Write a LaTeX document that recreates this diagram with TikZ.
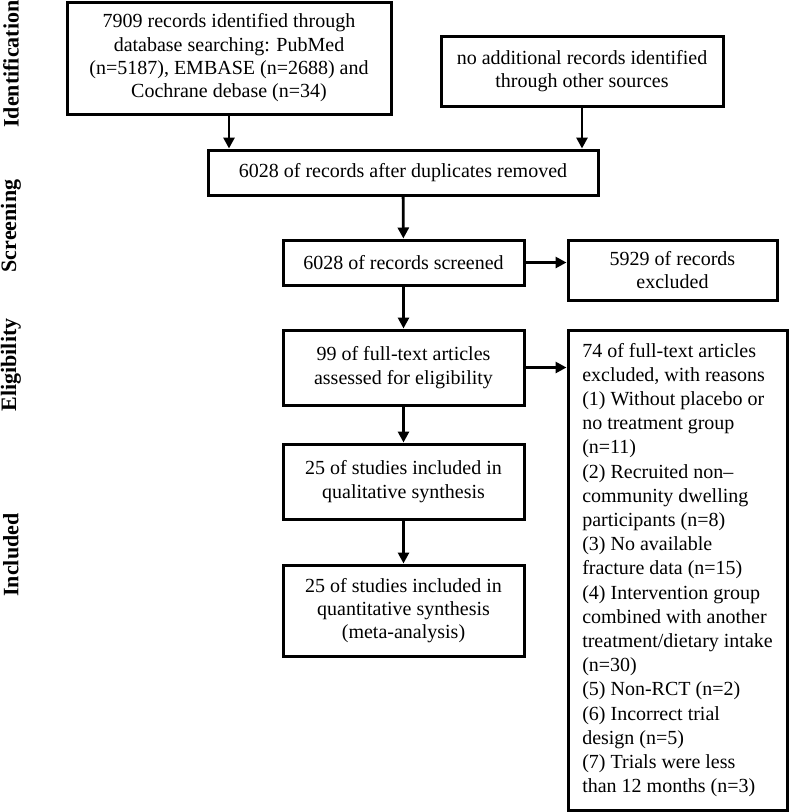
\documentclass[tikz,border=0pt]{standalone}
\usepackage{fontspec}
\setmainfont{Liberation Serif}
\usetikzlibrary{arrows.meta}
\tikzset{
  box/.style={draw, line width=3pt, align=center, inner sep=0pt,
    font=\fontsize{20}{23.3}\selectfont},
  flow/.style={line width=2.8pt, -{Triangle[length=11pt,width=11pt]}},
  phase/.style={rotate=90, font=\fontsize{22}{24}\selectfont\bfseries}
}
\begin{document}
\begin{tikzpicture}[x=1pt,y=-1pt]
\useasboundingbox (0,0) rectangle (788,812);
% stage labels
\node[phase] (lid) at (11,64) {Identification};
\node[phase] (lscr) at (11,226) {Screening};
\node[phase] (lelig) at (11,365) {Eligibility};
\node[phase] (linc) at (11,555) {Included};
% boxes
\node[box, minimum width=324, minimum height=112] (search) at (229,58)
  {7909 records identified through\\database searching: PubMed\\(n=5187), EMBASE (n=2688) and\\Cochrane debase (n=34)};
\node[box, minimum width=282, minimum height=70] (other) at (582,71)
  {no additional records identified\\through other sources};
\node[box, minimum width=390, minimum height=45] (dup) at (403,172.5)
  {6028 of records after duplicates removed};
\node[box, minimum width=241, minimum height=45] (screen) at (403.5,262.5)
  {6028 of records screened};
\node[box, minimum width=209, minimum height=60] (excl) at (672.5,270)
  {5929 of records\\excluded};
\node[box, minimum width=241, minimum height=75] (full) at (403.5,367.5)
  {99 of full-text articles\\assessed for eligibility};
\node[box, minimum width=219, minimum height=480, align=left,
  font=\fontsize{20}{24.2}\selectfont] (reasons) at (677.5,570)
  {74 of full-text articles\\excluded, with reasons\\(1) Without placebo or\\no treatment group\\(n=11)\\(2) Recruited non--\\community dwelling\\participants (n=8)\\(3) No available\\fracture data (n=15)\\(4) Intervention group\\combined with another\\treatment/dietary intake\\(n=30)\\(5) Non-RCT (n=2)\\(6) Incorrect trial\\design (n=5)\\(7) Trials were less\\than 12 months (n=3)};
\node[box, minimum width=241, minimum height=75] (qual) at (403.5,481.5)
  {25 of studies included in\\qualitative synthesis};
\node[box, minimum width=241, minimum height=91] (quant) at (403.5,610.5)
  {25 of studies included in\\quantitative synthesis\\(meta-analysis)};
% arrows
\draw[flow] (search.south) -- (search.south |- dup.north);
\draw[flow] (other.south) -- (other.south |- dup.north);
\draw[flow] (dup) -- (screen);
\draw[flow] (screen.east) -- (screen.east -| excl.west);
\draw[flow] (screen) -- (full);
\draw[flow] (full.east) -- (full.east -| reasons.west);
\draw[flow] (full) -- (qual);
\draw[flow] (qual) -- (quant);
\end{tikzpicture}
\end{document}
